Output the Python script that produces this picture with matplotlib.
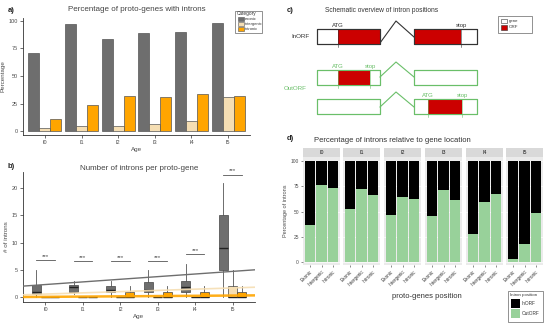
import matplotlib
matplotlib.use("Agg")
import matplotlib.pyplot as plt
from matplotlib.patches import Rectangle
import numpy as np

plt.rcParams['font.family'] = ['Liberation Sans', 'DejaVu Sans']

# ---------------- data ----------------
ages = ["I0", "I1", "I2", "I3", "I4", "I5"]
categories = ["exonic", "intergenic", "intronic"]
cat_colors = ["#6e6e6e", "#f5deb3", "#ffa500"]

pct_exonic = [71, 97, 84, 89, 90, 98]
pct_intergenic = [3, 5, 5, 6, 9, 31]
pct_intronic = [11, 24, 32, 31, 34, 32]

# box stats (whislo, q1, med, q3, whishi) per age
box_exonic = [(0, 0.5, 1, 2.2, 5), (0.5, 0.9, 1.9, 2.2, 3), (0, 0.9, 1.3, 2.1, 3),
              (0, 0.9, 1.2, 2.8, 5), (0, 1, 1.9, 3, 6), (0, 5, 9, 15, 21)]
box_intergenic = [(0, 0, 0, 0, 0), (0, 0, 0, 0, 0), (0, 0, 0, 0, 0),
                  (0, 0, 0, 0, 0), (0, 0, 0, 0, 0), (0, 0, 0, 2, 5)]
box_intronic = [(0, 0, 0, 0, 0), (0, 0, 0, 0, 0), (0, 0, 0, 1, 2),
                (0, 0, 0, 1, 2), (0, 0, 0, 1, 2), (0, 0, 0, 1, 2)]
lm_intercept = [1.81, 0.31, -0.02]
lm_slope = [0.484, 0.226, 0.048]
sig_y = [6.8, 6.6, 6.6, 6.6, 7.9, 22.5]

positions = ["Exonic", "Intergenic", "Intronic"]
outorf_pct = {
    "I0": [37, 76, 73],
    "I1": [52, 72, 66],
    "I2": [47, 64, 62],
    "I3": [46, 71, 61],
    "I4": [28, 59, 67],
    "I5": [3, 18, 49],
}
col_in = "#000000"
col_out = "#98d19a"

# ---------------- figure ----------------
W, H = 550, 325
fig = plt.figure(figsize=(5.5, 3.25), dpi=100)

def px_axes(x0, y0, x1, y1):
    return fig.add_axes([x0 / W, 1 - y1 / H, (x1 - x0) / W, (y1 - y0) / H])

TXT = "#4d4d4d"

def classic(ax):
    for s in ["top", "right"]:
        ax.spines[s].set_visible(False)
    for s in ["left", "bottom"]:
        ax.spines[s].set_color("#333333")
        ax.spines[s].set_linewidth(0.6)
    ax.tick_params(labelsize=4, length=2, width=0.5, colors="#333333", labelcolor=TXT, pad=1.5)

# ---- panel a ----
ax = px_axes(23, 18, 250, 135)
x = np.arange(1, len(ages) + 1)
w = 0.3
for i, (vals, col) in enumerate(zip([pct_exonic, pct_intergenic, pct_intronic], cat_colors)):
    ax.bar(x + (i - 1) * w, vals, w, color=col, edgecolor="#555555", linewidth=0.5)
ax.set_xlim(0.4, 6.6)
ax.set_ylim(-3.6, 102.7)
ax.set_xticks(x)
ax.set_xticklabels(ages)
ax.set_yticks([0, 25, 50, 75, 100])
classic(ax)
ax.set_xlabel("Age", fontsize=4.5, color=TXT, labelpad=1.5)
ax.set_ylabel("Percentage", fontsize=4.5, color=TXT, labelpad=2)
ax.set_title("Percentage of proto-genes with introns", fontsize=5.8, color="#444444", pad=5)

# ---- panel b ----
ax = px_axes(23, 172, 255, 302)
bw = 0.25
for i, (boxes, col) in enumerate(zip([box_exonic, box_intergenic, box_intronic], cat_colors)):
    stats = [dict(whislo=b[0], q1=b[1], med=b[2], q3=b[3], whishi=b[4]) for b in boxes]
    ax.bxp(stats, positions=x + (i - 1) * bw, widths=bw * 0.95, patch_artist=True,
           showfliers=False, showcaps=False,
           boxprops=dict(facecolor=col, edgecolor="#444444", linewidth=0.5),
           medianprops=dict(color="#222222", linewidth=1.0),
           whiskerprops=dict(color="#555555", linewidth=0.6), manage_ticks=False)
xs = np.array([0.4, 6.6])
lm_styles = [dict(color="#6e6e6e", lw=1.0, alpha=1.0),
             dict(color="#f5deb3", lw=1.2, alpha=0.9),
             dict(color="#ffa500", lw=1.8, alpha=0.9)]
for a_, b_, st in zip(lm_intercept, lm_slope, lm_styles):
    ax.plot(xs, a_ + b_ * xs, zorder=4, **st)
for xi, sy in zip(x, sig_y):
    ax.plot([xi - 0.25, xi + 0.25], [sy, sy], color="#555555", lw=0.6, clip_on=False)
    ax.text(xi, sy + 0.25, "***", ha="center", va="bottom", fontsize=4.5, color="#444444",
            clip_on=False)
ax.set_xlim(0.4, 6.6)
ax.set_ylim(-0.92, 23.0)
ax.set_xticks(x)
ax.set_xticklabels(ages)
ax.set_yticks([0, 5, 10, 15, 20])
classic(ax)
ax.set_xlabel("Age", fontsize=4.5, color=TXT, labelpad=1.5)
ax.set_ylabel("# of introns", fontsize=4.5, color=TXT, labelpad=2)
ax.text(0.5, 1.0, "Number of introns per proto-gene", transform=ax.transAxes,
        ha="center", va="bottom", fontsize=5.8, color="#444444")

# ---- panel d ----
facet_x = [303, 343, 384, 425, 466, 506]
fw = 37
xp = np.arange(1, len(positions) + 1)
for k, (age, fx) in enumerate(zip(ages, facet_x)):
    ax = px_axes(fx, 157, fx + fw, 265)
    ax.set_facecolor("#ebebeb")
    vals = np.array(outorf_pct[age])
    ax.bar(xp, vals, 0.9, color=col_out, edgecolor="none", zorder=2)
    ax.bar(xp, 100 - vals, 0.9, bottom=vals, color=col_in, edgecolor="none", zorder=2)
    ax.set_xlim(0.4, 3.6)
    ax.set_ylim(-3, 104)
    for s in ax.spines.values():
        s.set_visible(False)
    ax.set_yticks([0, 25, 50, 75, 100])
    ax.grid(axis="y", color="white", lw=0.5, zorder=0)
    ax.set_axisbelow(True)
    ax.set_xticks(xp)
    ax.set_xticklabels(positions, rotation=45, ha="right", rotation_mode="anchor",
                       fontsize=3.3, color=TXT)
    ax.tick_params(length=1.5, width=0.4, colors="#333333", pad=1.5)
    if k == 0:
        ax.tick_params(axis="y", labelsize=3.5, labelcolor=TXT)
        ax.set_ylabel("Percentage of introns", fontsize=4, color=TXT, labelpad=2)
    else:
        ax.set_yticklabels([])
        ax.tick_params(axis="y", length=0)
    st = px_axes(fx, 148, fx + fw, 157)
    st.set_facecolor("#d9d9d9")
    st.set_xticks([]); st.set_yticks([])
    for s in st.spines.values():
        s.set_visible(False)
    st.text(0.5, 0.5, age, ha="center", va="center", fontsize=3.8, color="#1a1a1a",
            transform=st.transAxes)

# ---------------- overlay (letters, schematic, legends) ----------------
ov = fig.add_axes([0, 0, 1, 1])
ov.set_xlim(0, W)
ov.set_ylim(H, 0)
ov.axis("off")
ov.set_zorder(10)

for lab, (lx, ly) in zip(["a)", "b)", "c)", "d)"], [(8, 11), (8, 167), (287, 10), (287, 138)]):
    ov.text(lx, ly, lab, fontsize=5.5, fontweight="bold", ha="left", va="center", color="#222222")

ov.text(392, 140, "Percentage of introns relative to gene location", fontsize=5.5,
        ha="center", va="center", color="#333333")
ov.text(427, 297, "proto-genes position", fontsize=5.5, ha="center", va="center", color="#333333")

# legend a
ov.add_patch(Rectangle((235, 11), 27, 22, facecolor="white", edgecolor="#666666", lw=0.5))
ov.text(237, 14, "Category", fontsize=3.4, va="center", color="#333333")
for j, (c, col) in enumerate(zip(categories, cat_colors)):
    y0 = 16.5 + j * 5
    ov.add_patch(Rectangle((237.5, y0), 6, 4.6, facecolor=col, edgecolor="#555555", lw=0.4))
    ov.text(245, y0 + 2.4, c, fontsize=3.0, va="center", color="#333333")

# legend d
ov.add_patch(Rectangle((508, 291), 35, 31, facecolor="white", edgecolor="#666666", lw=0.5))
ov.text(510, 295, "Intron position", fontsize=3.2, va="center", color="#333333")
for j, (lab, col) in enumerate(zip(["InORF", "OutORF"], [col_in, col_out])):
    y0 = 299 + j * 10
    ov.add_patch(Rectangle((510.5, y0), 9, 9, facecolor=col, edgecolor="none"))
    ov.text(521.5, y0 + 4.5, lab, fontsize=3.4, va="center", color="#333333")

# schematic c
RED = "#cc0000"
GREEN = "#6abf69"
DARK = "#333333"
ov.text(382, 10, "Schematic overview of intron positions", fontsize=4.8, ha="center",
        va="center", color="#333333")

def gene_row(y0, h, col, red_spans, marks, intron_y):
    for (gx0, gx1) in [(317, 380), (414, 477)]:
        ov.add_patch(Rectangle((gx0, y0), gx1 - gx0, h, facecolor="white", edgecolor=col, lw=0.8))
    for (rx0, rx1) in red_spans:
        ov.add_patch(Rectangle((rx0, y0), rx1 - rx0, h, facecolor=RED, edgecolor="none", zorder=3))
    for (mx, lab) in marks:
        ov.plot([mx, mx], [y0, y0 + h + 2.5], color=col, lw=0.4, zorder=4)
        ov.text(mx, y0 - 3.5, lab, fontsize=4.3, ha="center", va="center", color=col)
    ov.plot([380, 396, 414], intron_y, color=col, lw=0.8)
    for (gx0, gx1) in [(317, 380), (414, 477)]:
        ov.add_patch(Rectangle((gx0, y0), gx1 - gx0, h, facecolor="none", edgecolor=col, lw=0.8, zorder=5))

gene_row(29, 15, DARK, [(338, 380), (414, 461)], [(338, "ATG"), (461, "stop")], [43, 21, 37])
gene_row(70, 15, GREEN, [(338, 370)], [(338, "ATG"), (370, "stop")], [77, 62, 77])
gene_row(99, 15, GREEN, [(428, 462)], [(428, "ATG"), (462, "stop")], [107, 92, 107])
ov.text(300, 37, "InORF", fontsize=4.5, ha="center", va="center", color="#333333")
ov.text(295, 89, "OutORF", fontsize=4.5, ha="center", va="center", color=GREEN)

# legend c
ov.add_patch(Rectangle((498, 16), 34, 17, facecolor="white", edgecolor="#666666", lw=0.5))
for j, (lab, col) in enumerate(zip(["gene", "ORF"], ["white", RED])):
    y0 = 18.5 + j * 6.5
    ov.add_patch(Rectangle((500.5, y0), 6, 4.5, facecolor=col, edgecolor="#333333", lw=0.4))
    ov.text(509, y0 + 2.3, lab, fontsize=3.2, va="center", color="#333333")

fig.savefig("out.png", dpi=100)
